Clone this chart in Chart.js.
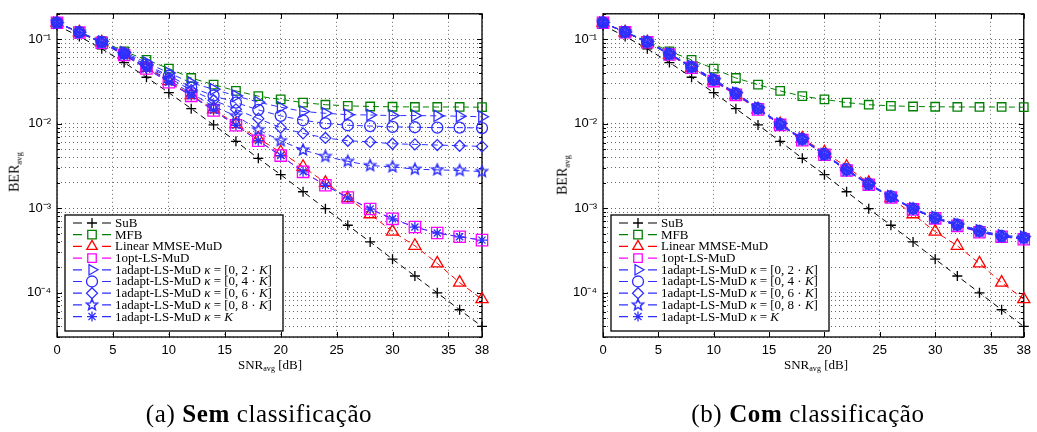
<!DOCTYPE html>
<html>
<head>
<meta charset="utf-8">
<script src="https://cdn.jsdelivr.net/npm/chart.js@4.4.1/dist/chart.umd.min.js"></script>
<style>
  body { margin: 0; background: #fff; width: 1037px; height: 432px; position: relative; overflow: hidden; }
  .box { position: absolute; top: 0; }
  .lab { position: absolute; font-family: "Liberation Serif", "DejaVu Serif", serif; color: #000; white-space: nowrap; }
  .lab sub { font-size: 62%; vertical-align: -0.3em; }
  .ylab { font-size: 14px; transform: translate(-50%, -50%) rotate(-90deg); }
  .xlab { font-size: 13px; transform: translate(-50%, -50%); }
  .cap { font-size: 25px; letter-spacing: 0.6px; transform: translate(-50%, -50%); }
</style>
</head>
<body>
<div class="box" style="left:0"><canvas id="chartA" width="520" height="380"></canvas></div>
<div class="box" style="left:520px"><canvas id="chartB" width="517" height="380"></canvas></div>

<div class="lab ylab" style="left:15px; top:172px">BER<sub>avg</sub></div>
<div class="lab xlab" style="left:270px; top:365px">SNR<sub>avg</sub> [dB]</div>
<div class="lab cap" style="left:259px; top:414px">(a) <b>Sem</b> classificação</div>

<div class="lab ylab" style="left:563px; top:175px">BER<sub>avg</sub></div>
<div class="lab xlab" style="left:816px; top:365px">SNR<sub>avg</sub> [dB]</div>
<div class="lab cap" style="left:808px; top:414px">(b) <b>Com</b> classificação</div>

<script>
// SNR points (dB) and axis ticks
const snr = [0, 2, 4, 6, 8, 10, 12, 14, 16, 18, 20, 22, 24, 26, 28, 30, 32, 34, 36, 38];
const xTicks = [0, 5, 10, 15, 20, 25, 30, 35, 38];
const yMin = 3e-5, yMax = 0.2;

const seriesLabels = ['SuB', 'MFB', 'Linear MMSE-MuD', '1opt-LS-MuD',
  '1adapt-LS-MuD κ=[0,2·K]', '1adapt-LS-MuD κ=[0,4·K]', '1adapt-LS-MuD κ=[0,6·K]',
  '1adapt-LS-MuD κ=[0,8·K]', '1adapt-LS-MuD κ=K'];

// BER values, both panels
const sub  = [0.146, 0.108, 0.077, 0.053, 0.0355, 0.0233, 0.0151, 0.0097, 0.0062, 0.0039, 0.0025, 0.00157, 0.00099, 0.00063, 0.0004, 0.00025, 0.000158, 0.0001, 0.000063, 0.00004];
const mfb  = [0.157, 0.122, 0.095, 0.072, 0.057, 0.045, 0.0348, 0.029, 0.0245, 0.0212, 0.0194, 0.0178, 0.0168, 0.0163, 0.016, 0.0159, 0.0158, 0.0158, 0.0158, 0.0157];
const mmse = [0.157, 0.121, 0.092, 0.066, 0.046, 0.032, 0.0218, 0.0148, 0.0099, 0.0067, 0.0046, 0.0031, 0.002, 0.00132, 0.00085, 0.00053, 0.00036, 0.000223, 0.000132, 0.000084];

// (a) sem classificacao
const optA = [0.157, 0.12, 0.091, 0.065, 0.045, 0.031, 0.0214, 0.0144, 0.0096, 0.0063, 0.0042, 0.0027, 0.00187, 0.00134, 0.00098, 0.00075, 0.0006, 0.00051, 0.00046, 0.00042];
const a02A = [0.157, 0.121, 0.094, 0.07, 0.053, 0.04, 0.0305, 0.0256, 0.0214, 0.018, 0.0157, 0.014, 0.0133, 0.0128, 0.0127, 0.0125, 0.0125, 0.0124, 0.0123, 0.0121];
const a04A = [0.157, 0.121, 0.093, 0.068, 0.05, 0.037, 0.027, 0.0215, 0.0178, 0.0146, 0.0124, 0.011, 0.0101, 0.0096, 0.0094, 0.0092, 0.0091, 0.009, 0.009, 0.0089];
const a06A = [0.157, 0.12, 0.092, 0.067, 0.049, 0.035, 0.025, 0.019, 0.0148, 0.0115, 0.009, 0.0077, 0.0068, 0.0063, 0.0061, 0.0058, 0.0057, 0.0056, 0.0055, 0.0054];
const a08A = [0.157, 0.12, 0.091, 0.066, 0.047, 0.033, 0.023, 0.016, 0.0124, 0.0085, 0.0063, 0.0049, 0.0041, 0.0036, 0.0032, 0.0031, 0.0029, 0.00285, 0.0028, 0.00272];
const a10A = [0.157, 0.12, 0.091, 0.065, 0.045, 0.031, 0.0214, 0.0144, 0.0096, 0.0063, 0.0042, 0.0027, 0.00187, 0.00133, 0.00098, 0.00075, 0.0006, 0.00051, 0.00046, 0.00042];

// (b) com classificacao
const optB = [0.157, 0.121, 0.092, 0.066, 0.046, 0.032, 0.022, 0.0148, 0.0097, 0.0064, 0.0043, 0.0028, 0.0019, 0.00134, 0.00097, 0.00076, 0.00062, 0.00052, 0.00046, 0.00043];
const a02B = [0.158, 0.122, 0.094, 0.068, 0.048, 0.034, 0.0232, 0.0155, 0.0101, 0.0067, 0.0044, 0.0029, 0.00196, 0.0014, 0.001, 0.00079, 0.00065, 0.00055, 0.00048, 0.00046];
const a04B = [0.158, 0.122, 0.093, 0.067, 0.047, 0.033, 0.0228, 0.0152, 0.0099, 0.0066, 0.0044, 0.0029, 0.00194, 0.00138, 0.00099, 0.00077, 0.00064, 0.00054, 0.00047, 0.00045];
const a06B = [0.157, 0.121, 0.093, 0.067, 0.047, 0.033, 0.0226, 0.0151, 0.0098, 0.0065, 0.0043, 0.0028, 0.00192, 0.00137, 0.00098, 0.00076, 0.00063, 0.00053, 0.00046, 0.00044];
const a08B = [0.157, 0.121, 0.093, 0.066, 0.047, 0.033, 0.0225, 0.015, 0.0098, 0.0065, 0.0043, 0.0028, 0.00191, 0.00136, 0.00098, 0.00076, 0.00063, 0.00053, 0.00046, 0.00044];
const a10B = [0.157, 0.121, 0.092, 0.066, 0.046, 0.032, 0.0224, 0.015, 0.0097, 0.0065, 0.0043, 0.0028, 0.0019, 0.00135, 0.00098, 0.00076, 0.00062, 0.00053, 0.00046, 0.00044];

// styles
const BLUE = '#2f2fff';
const colors = ['#000000', '#008000', '#ff0000', '#ff00ff', BLUE, BLUE, BLUE, BLUE, BLUE];

function pentagram(color, R) {
  const c = document.createElement('canvas');
  const s = Math.ceil(2 * R + 4);
  c.width = s; c.height = s;
  const g = c.getContext('2d');
  g.strokeStyle = color; g.lineWidth = 1.5;
  g.beginPath();
  for (let i = 0; i < 10; i++) {
    const rr = i % 2 ? R * 0.45 : R;
    const a = -Math.PI / 2 + i * Math.PI / 5;
    const px = s / 2 + rr * Math.cos(a), py = s / 2 + rr * Math.sin(a);
    if (i) g.lineTo(px, py); else g.moveTo(px, py);
  }
  g.closePath(); g.stroke();
  return c;
}
const starImg = pentagram(BLUE, 5.8);

const markers = ['cross', 'rect', 'triangle', 'rect', 'triangle', 'circle', 'rectRot', starImg, 'star'];
const radii = [5, 6, 7, 8, 6.5, 5.5, 5.5, 6, 5];
const rotations = [0, 0, 0, 0, 90, 0, 0, 0, 0];

function sup(n) {
  const m = {'-': '⁻', '0': '⁰', '1': '¹', '2': '²', '3': '³', '4': '⁴', '5': '⁵'};
  return String(n).split('').map(c => m[c]).join('');
}

// own marker drawing for the legend
function drawMarker(ctx, style, x, y, r, rot, color) {
  ctx.save();
  ctx.strokeStyle = color; ctx.lineWidth = 1.3; ctx.setLineDash([]);
  if (typeof style === 'object') {
    ctx.drawImage(style, x - style.width / 2, y - style.height / 2);
    ctx.restore();
    return;
  }
  ctx.beginPath();
  if (style === 'cross') {
    ctx.moveTo(x - r, y); ctx.lineTo(x + r, y); ctx.moveTo(x, y - r); ctx.lineTo(x, y + r);
  } else if (style === 'star') {
    for (let k = 0; k < 4; k++) {
      const a = k * Math.PI / 4;
      ctx.moveTo(x - r * Math.cos(a), y - r * Math.sin(a)); ctx.lineTo(x + r * Math.cos(a), y + r * Math.sin(a));
    }
  } else if (style === 'rect') {
    const h = r * Math.SQRT1_2;
    ctx.rect(x - h, y - h, 2 * h, 2 * h);
  } else if (style === 'circle') {
    ctx.arc(x, y, r, 0, Math.PI * 2);
  } else if (style === 'rectRot') {
    ctx.moveTo(x, y - r); ctx.lineTo(x + r, y); ctx.lineTo(x, y + r); ctx.lineTo(x - r, y); ctx.closePath();
  } else if (style === 'triangle') {
    const b = rot * Math.PI / 180;
    for (let k = 0; k < 3; k++) {
      const a = b + k * 2 * Math.PI / 3;
      const px = x + Math.sin(a) * r, py = y - Math.cos(a) * r;
      if (k) ctx.lineTo(px, py); else ctx.moveTo(px, py);
    }
    ctx.closePath();
  }
  ctx.stroke();
  ctx.restore();
}

function legendParts(i) {
  const base = seriesLabels[i];
  if (i < 4) return [[base, false]];
  if (i === 8) return [['1adapt-LS-MuD ', false], ['κ', true], [' = ', false], ['K', true]];
  const f = ['2', '4', '6', '8'][i - 4];
  return [['1adapt-LS-MuD ', false], ['κ', true], [' = [0, ' + f + ' · ', false], ['K', true], [']', false]];
}

const framePlugin = {
  id: 'frame',
  beforeDatasetsDraw(chart) {
    const {ctx, chartArea: a} = chart;
    ctx.save();
    ctx.strokeStyle = '#000'; ctx.lineWidth = 1.3;
    ctx.strokeRect(a.left, a.top, a.right - a.left, a.bottom - a.top);
    // inner tick marks
    ctx.lineWidth = 1;
    ctx.beginPath();
    chart.scales.x.ticks.forEach(t => {
      const px = Math.round(chart.scales.x.getPixelForValue(t.value)) + 0.5;
      ctx.moveTo(px, a.bottom); ctx.lineTo(px, a.bottom - 5);
      ctx.moveTo(px, a.top); ctx.lineTo(px, a.top + 5);
    });
    chart.scales.y.ticks.forEach(t => {
      const e = Math.log10(t.value);
      const len = Math.abs(e - Math.round(e)) < 1e-6 ? 5 : 3;
      const py = Math.round(chart.scales.y.getPixelForValue(t.value)) + 0.5;
      ctx.moveTo(a.left, py); ctx.lineTo(a.left + len, py);
      ctx.moveTo(a.right, py); ctx.lineTo(a.right - len, py);
    });
    ctx.stroke();
    ctx.restore();
  }
};

const boxLegend = {
  id: 'boxLegend',
  afterDatasetsDraw(chart) {
    const {ctx, chartArea: a} = chart;
    const bx = a.left + 8, bw = 218, bh = 116, by = a.bottom - 6 - bh;
    ctx.save();
    ctx.fillStyle = '#fff';
    ctx.fillRect(bx, by, bw, bh);
    ctx.strokeStyle = '#000'; ctx.lineWidth = 1.3;
    ctx.strokeRect(bx, by, bw, bh);
    ctx.textBaseline = 'middle';
    for (let i = 0; i < 9; i++) {
      const y = by + 8 + i * 11.7;
      ctx.strokeStyle = colors[i]; ctx.lineWidth = 1.2;
      ctx.beginPath();
      ctx.moveTo(bx + 8, y); ctx.lineTo(bx + 17, y);
      ctx.moveTo(bx + 37, y); ctx.lineTo(bx + 46, y);
      ctx.stroke();
      drawMarker(ctx, markers[i], bx + 27, y, Math.min(radii[i], 6), rotations[i], colors[i]);
      let tx = bx + 50;
      ctx.fillStyle = '#000';
      legendParts(i).forEach(([txt, it]) => {
        ctx.font = (it ? 'italic ' : '') + '13px "Liberation Serif"';
        ctx.fillText(txt, tx, y + 0.5);
        tx += ctx.measureText(txt).width;
      });
    }
    ctx.restore();
  }
};

function makeDatasets(series) {
  return series.map((vals, i) => ({
    label: seriesLabels[i],
    data: snr.map((x, k) => ({x: x, y: vals[k]})),
    borderColor: colors[i],
    backgroundColor: 'transparent',
    borderWidth: 1,
    borderDash: [6, 4],
    pointStyle: markers[i],
    pointRadius: radii[i],
    pointRotation: rotations[i],
    pointBorderColor: colors[i],
    pointBackgroundColor: 'transparent',
    pointBorderWidth: 1.3,
    fill: false,
    tension: 0,
    clip: false,
    order: 20 - i
  }));
}

function makeChart(id, series, geo) {
  const tickFont = {family: '"Liberation Sans", Arial, sans-serif', size: 13};
  const gridStyle = {color: 'rgba(0,0,0,0.6)', lineWidth: 1, drawTicks: false};
  return new Chart(document.getElementById(id), {
    type: 'line',
    data: {datasets: makeDatasets(series)},
    options: {
      responsive: false,
      animation: false,
      devicePixelRatio: 1,
      events: [],
      layout: {padding: {left: 0, right: geo.right, top: geo.top, bottom: 0}},
      plugins: {legend: {display: false}, tooltip: {enabled: false}},
      scales: {
        x: {
          type: 'linear', min: 0, max: 38,
          afterBuildTicks: s => { s.ticks = xTicks.map(v => ({value: v})); },
          afterFit: s => { s.height = 380 - geo.bottom; },
          ticks: {autoSkip: false, maxRotation: 0, padding: 6, color: '#000', font: tickFont},
          grid: gridStyle,
          border: {display: false, dash: [1, 3]}
        },
        y: {
          type: 'logarithmic', min: yMin, max: yMax,
          afterBuildTicks: s => {
            const t = [];
            for (let e = -5; e <= -1; e++) {
              for (let m = 1; m <= 9; m++) {
                const v = m * Math.pow(10, e);
                if (v >= yMin * 0.999 && v <= yMax * 1.001) t.push({value: v});
              }
            }
            s.ticks = t;
          },
          afterFit: s => { s.width = geo.left; },
          ticks: {
            autoSkip: false, padding: 6, color: '#000', font: tickFont,
            callback: v => {
              const e = Math.log10(v);
              return Math.abs(e - Math.round(e)) < 1e-6 ? '10' + sup(Math.round(e)) : '';
            }
          },
          grid: gridStyle,
          border: {display: false, dash: [1, 3]}
        }
      }
    },
    plugins: [framePlugin, boxLegend]
  });
}

makeChart('chartA', [sub, mfb, mmse, optA, a02A, a04A, a06A, a08A, a10A], {left: 57, right: 38, top: 5, bottom: 337});
makeChart('chartB', [sub, mfb, mmse, optB, a02B, a04B, a06B, a08B, a10B], {left: 83, right: 8, top: 13, bottom: 337});
</script>
</body>
</html>
